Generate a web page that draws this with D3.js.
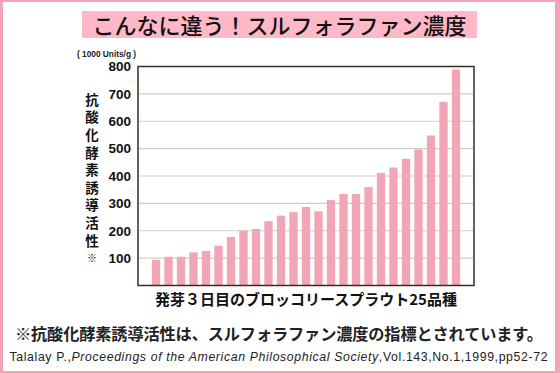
<!DOCTYPE html>
<html><head><meta charset="utf-8">
<script src="https://cdn.jsdelivr.net/npm/d3@7"></script>
<style>html,body{margin:0;padding:0;background:#fff;}svg{display:block;}</style>
</head><body>
<script>
const categories = d3.range(1, 26).map(i => "品種" + i);
const values = [94,105,105,121,126,145,177,201,206,235,255,268,287,271,312,334,334,360,411,431,463,497,548,671,789];
const yTicks = [100,200,300,400,500,600,700,800];
const title = "こんなに違う！スルフォラファン濃度";
const unitLabel = "( 1000 Units/g )";
const yLabel = "抗酸化酵素誘導活性";
const xLabel = "発芽３日目のブロッコリースプラウト25品種";
const note = "※抗酸化酵素誘導活性は、スルフォラファン濃度の指標とされています。";

const W = 560, H = 373;
const svg = d3.select("body").append("svg").attr("width", W).attr("height", H);
const jp = "'Noto Sans CJK JP', 'Noto Sans', sans-serif";

// frame
svg.append("rect").attr("x",0).attr("y",0).attr("width",W).attr("height",H).attr("fill","#f5a3b4");
svg.append("rect").attr("x",3).attr("y",2).attr("width",552).attr("height",369).attr("fill","#fff");

// title
svg.append("rect").attr("x",82).attr("y",11).attr("width",395).attr("height",27).attr("fill","#ffb8c6");
svg.append("text").attr("x",279.5).attr("y",33.5).attr("text-anchor","middle")
  .attr("font-family",jp).attr("font-weight",500).attr("font-size",22).attr("fill","#111").text(title);

svg.append("text").attr("x",77).attr("y",57).attr("font-family","'Liberation Sans', Arial, sans-serif")
  .attr("font-weight","bold").attr("font-size",8.3).attr("fill","#222").text(unitLabel);

const pL = 138, pR = 474, pT = 66.5, pB = 285.5;
const x = d3.scaleBand().domain(categories).range([pL, pR]).paddingInner(0.336).paddingOuter(1.108);
const y = d3.scaleLinear().domain([0, 800]).range([pB, pT]);

// grid
svg.append("g").selectAll("line").data(yTicks.filter(t => t < 800)).join("line")
  .attr("x1", pL).attr("x2", pR).attr("y1", d => y(d)).attr("y2", d => y(d))
  .attr("stroke","#cfcfcf").attr("stroke-width",1.2);

// bars
svg.append("g").selectAll("rect").data(values).join("rect")
  .attr("x", (d,i) => x(categories[i])).attr("width", x.bandwidth())
  .attr("y", d => y(d)).attr("height", d => y(0) - y(d))
  .attr("fill","#f1a5b7");

// frame box
svg.append("rect").attr("x",pL).attr("y",pT).attr("width",pR-pL).attr("height",pB-pT)
  .attr("fill","none").attr("stroke","#3b2a2a").attr("stroke-width",1.5);

// y axis tick labels
const yAxis = d3.axisLeft(y).tickValues(yTicks).tickSize(0).tickPadding(7);
const ga = svg.append("g").attr("transform",`translate(${pL},0)`).call(yAxis);
ga.select(".domain").remove();
ga.selectAll("text").attr("font-family","'Liberation Sans', Arial, sans-serif").attr("font-weight","bold")
  .attr("font-size",13.5).attr("fill","#111");

// vertical y label (single vertical text)
const yl = svg.append("text").attr("x", 92).attr("y", 93)
  .style("writing-mode","vertical-rl").style("text-orientation","upright")
  .attr("font-family",jp).attr("font-weight",700).attr("font-size",13.5).attr("letter-spacing",4.1)
  .attr("fill","#111");
yl.append("tspan").text(yLabel);
yl.append("tspan").attr("font-size",10).attr("font-weight",400).attr("dy",2).text("※");

// x label
svg.append("text").attr("x",(pL+pR)/2).attr("y",305).attr("text-anchor","middle")
  .attr("font-family",jp).attr("font-weight",700).attr("font-size",15).attr("fill","#111").text(xLabel);

// note
svg.append("text").attr("x",15).attr("y",340).attr("textLength",528).attr("lengthAdjust","spacing")
  .attr("font-family",jp).attr("font-weight",700).attr("font-size",16.2).attr("fill","#222").text(note);

// citation
const cit = svg.append("text").attr("x",9.5).attr("y",361).attr("textLength",538).attr("lengthAdjust","spacing")
  .attr("font-family","'Liberation Sans', Arial, sans-serif").attr("font-size",12.3).attr("fill","#222");
cit.append("tspan").text("Talalay P.,");
cit.append("tspan").attr("font-style","italic").text("Proceedings of the American Philosophical Society");
cit.append("tspan").text(",Vol.143,No.1,1999,pp52-72");
</script>
</body></html>
